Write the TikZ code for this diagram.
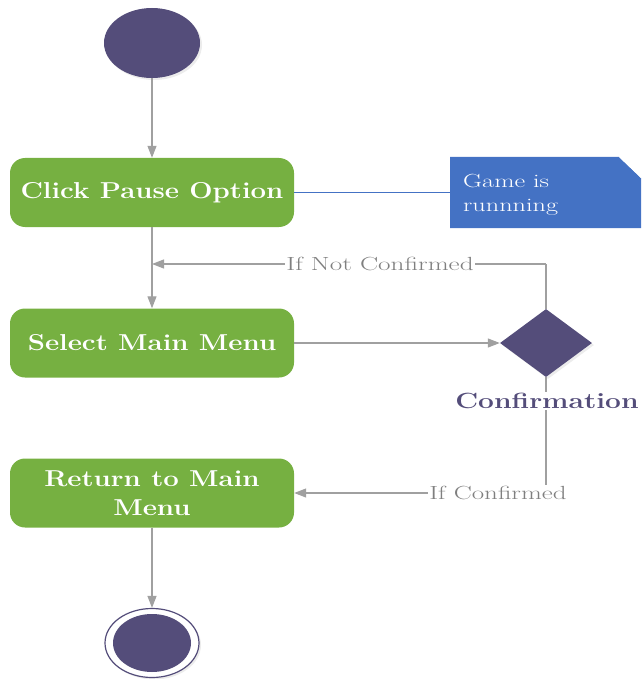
\documentclass[tikz,border=0pt]{standalone}
\usepackage{fontspec}
\usepackage{graphicx}
\usetikzlibrary{shapes.geometric,arrows.meta,shadows}
\definecolor{umlpurple}{HTML}{544D7A}
\definecolor{umlgreen}{HTML}{76B041}
\definecolor{umlblue}{HTML}{4472C4}
\definecolor{umlgray}{HTML}{A0A0A0}
\definecolor{labgray}{HTML}{7F7F7F}
\newcommand{\wide}[2]{\scalebox{#1}[1]{#2}}
\begin{document}
\begin{tikzpicture}[x=1pt,y=-1pt,
  action/.style={rectangle,rounded corners=15pt,fill=umlgreen,minimum width=284pt,minimum height=69pt,
    text=white,font=\fontsize{23}{29}\selectfont\bfseries,align=center,inner sep=0pt},
  startnode/.style={ellipse,fill=umlpurple,minimum width=96pt,minimum height=70pt,inner sep=0pt,
    drop shadow={shadow xshift=2pt,shadow yshift=-2pt,opacity=0.15}},
  decision/.style={diamond,fill=umlpurple,minimum width=92pt,minimum height=68pt,inner sep=0pt,aspect=1.35,
    drop shadow={shadow xshift=2pt,shadow yshift=-2pt,opacity=0.15}},
  flow/.style={draw=umlgray,line width=1.2pt,-{Triangle[length=12pt,width=9pt]}},
  plainflow/.style={draw=umlgray,line width=1.2pt},
  guard/.style={fill=white,text=labgray,font=\fontsize{19}{22}\selectfont,inner sep=1pt}
]
\useasboundingbox (0,0) rectangle (641,679);
\node[startnode] (start) at (152,43) {};
\node[action] (pause) at (152,192.5) {\wide{1.2}{Click Pause Option}};
\node[action] (select) at (152,343) {\wide{1.2}{Select Main Menu}};
\node[action] (ret) at (152,493) {\wide{1.2}{Return to Main}\\\wide{1.2}{Menu}};
\node[decision] (dec) at (546,343) {};
\node[ellipse,draw=umlpurple,line width=1.2pt,fill=white,minimum width=94pt,minimum height=69pt,inner sep=0pt,
  drop shadow={shadow xshift=2pt,shadow yshift=-2pt,opacity=0.15}] (endo) at (152,643) {};
\node[ellipse,fill=umlpurple,minimum width=78pt,minimum height=58pt,inner sep=0pt] (endi) at (152,643) {};
% note
\fill[umlblue] (450,157) -- (619,157) -- (641,178) -- (641,228) -- (450,228) -- cycle;
\fill[white] (619,157) -- (641,157) -- (641,178) -- cycle;
\node[anchor=north west,text=white,font=\fontsize{19}{24}\selectfont,align=left,inner sep=0pt] (note) at (463,174) {\wide{1.38}{Game is}\\\wide{1.38}{runnning}};
\coordinate (noteleft) at (450,192.5);
\draw[umlblue,line width=1pt] (pause.east) -- (noteleft);
% flows
\draw[flow] (start.south) -- (pause.north);
\draw[flow] (pause.south) -- (select.north);
\draw[flow] (select.east) -- (dec.west);
\draw[flow] (ret.south) -- (endo.north);
\coordinate (nc1) at (546,264);
\coordinate (nc2) at (152,264);
\draw[plainflow] (dec.north) -- (nc1);
\draw[flow] (nc1) -- (nc2);
\node[guard] (g1) at (380,264) {\wide{1.43}{If Not Confirmed}};
\coordinate (c1) at (546,493);
\draw[plainflow] (dec.south) -- (c1);
\draw[flow] (c1) -- (ret.east);
\node[guard] (g2) at (498,493) {\wide{1.42}{If Confirmed}};
\node[fill=white,inner sep=1pt,font=\fontsize{22}{26}\selectfont\bfseries,text=umlpurple] (conf) at (547,401) {\wide{1.28}{Confirmation}};
\end{tikzpicture}
\end{document}
